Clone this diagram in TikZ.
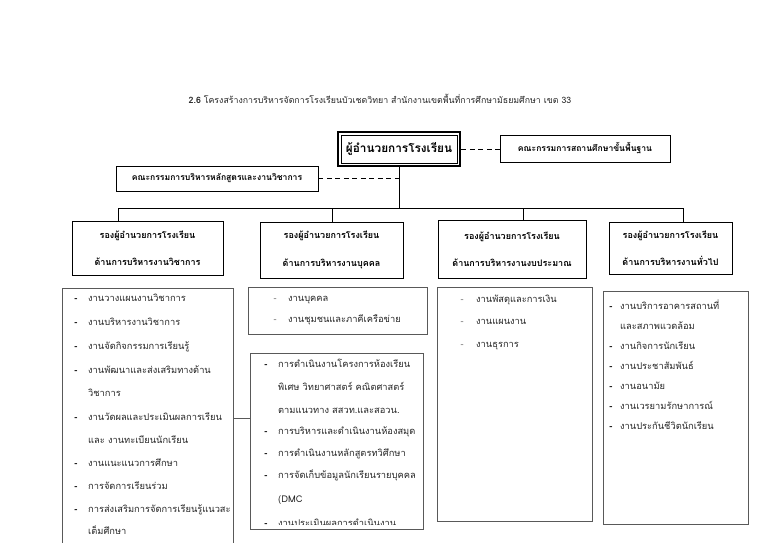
\documentclass[tikz,border=0pt]{standalone}
\usepackage{fontspec}
\setmainfont{Loma}[Script=Thai]
\usetikzlibrary{fit,calc}
\begin{document}
\begin{tikzpicture}[x=1pt,y=-1pt,
  box/.style={draw, line width=0.9pt, inner sep=0pt, font=\bfseries\fontsize{8.6}{10}\selectfont},
  hbox/.style={draw, line width=0.9pt, inner sep=0pt, align=center, font=\bfseries\fontsize{9}{27.5}\selectfont},
  lbox/.style={draw=black!65, line width=0.6pt, inner sep=0pt, anchor=north west},
  itm/.style={font=\fontsize{9.3}{11}\selectfont, inner sep=0pt, text height=7pt, text depth=2.5pt, anchor=west, text=black!85},
  dsh/.style={font=\bfseries\fontsize{9.3}{11}\selectfont, inner sep=0pt, text height=7pt, text depth=2.5pt, anchor=center},
  ldsh/.style={dsh, font=\fontsize{9}{11}\selectfont, text=black!55},
  conn/.style={line width=0.8pt},
  dconn/.style={line width=0.8pt, dash pattern=on 5pt off 3.5pt}]
\useasboundingbox (0,0) rectangle (768,543);
\fill[white] (0,0) rectangle (768,543);

% title
\node[inner sep=0pt, font=\fontsize{8.8}{10}\selectfont, text=black!85] (title) at (380,99) {\textbf{2.6} โครงสร้างการบริหารจัดการโรงเรียนบัวเชดวิทยา สำนักงานเขตพื้นที่การศึกษามัธยมศึกษา เขต 33};

% top
\node[draw, line width=0.7pt, minimum width=116pt, minimum height=28pt, inner sep=0pt, font=\bfseries\fontsize{11.8}{14}\selectfont] (main) at (399,149) {ผู้อำนวยการโรงเรียน};
\node[fit=(main), inner sep=3pt, draw, line width=2.2pt] (mainout) {};
\node[box, minimum width=170pt, minimum height=27pt] (board) at (585,148.5) {คณะกรรมการสถานศึกษาขั้นพื้นฐาน};
\node[box, minimum width=202pt, minimum height=25pt] (acad) at (217,178.5) {คณะกรรมการบริหารหลักสูตรและงานวิชาการ};

% deputies
\node[hbox, minimum width=151pt, minimum height=54pt] (h1) at (147.5,248) {รองผู้อำนวยการโรงเรียน\\ด้านการบริหารงานวิชาการ};
\node[hbox, minimum width=143pt, minimum height=56pt] (h2) at (331.5,250) {รองผู้อำนวยการโรงเรียน\\ด้านการบริหารงานบุคคล};
\node[hbox, minimum width=148pt, minimum height=58pt, yshift=2pt] (h3) at (512,251) {รองผู้อำนวยการโรงเรียน\\ด้านการบริหารงานงบประมาณ};
\node[hbox, minimum width=123pt, minimum height=52pt] (h4) at (670.5,248) {รองผู้อำนวยการโรงเรียน\\ด้านการบริหารงานทั่วไป};

% connectors
\coordinate (j1) at (118,208);
\coordinate (j2) at (332,208);
\coordinate (j3) at (523,208);
\coordinate (j4) at (683,208);
\draw[dconn] (mainout.east) -- (mainout.east -| board.west);
\draw[dconn] (acad.east) -- (acad.east -| mainout.south);
\draw[conn] (mainout.south) -- (mainout.south |- j1);
\draw[conn] (j1) -- (j4);
\draw[conn] (j1) -- (j1 |- h1.north);
\draw[conn] (j2) -- (j2 |- h2.north);
\draw[conn] (j3) -- (j3 |- h3.north);
\draw[conn] (j4) -- (j4 |- h4.north);

% list boxes
\node[lbox, minimum width=171pt, minimum height=275pt] (l1) at (62,288) {};
\node[lbox, minimum width=179pt, minimum height=47pt] (l2a) at (248,287) {};
\node[lbox, minimum width=173pt, minimum height=176pt] (l2b) at (250,353) {};
\node[lbox, minimum width=155pt, minimum height=234pt] (l3) at (437,287) {};
\node[lbox, minimum width=145pt, minimum height=233pt] (l4) at (603,291) {};
\coordinate (lk) at (l2b.west |- 0,418);
\draw[draw=black!65, line width=0.6pt] (l1.east |- lk) -- (lk);

% list 1
\node[dsh] (l1d1) at (76,299) {-};
\node[itm] (l1t1) at (88,299) {งานวางแผนงานวิชาการ};
\node[dsh] (l1d2) at (76,323) {-};
\node[itm] (l1t2) at (88,323) {งานบริหารงานวิชาการ};
\node[dsh] (l1d3) at (76,347) {-};
\node[itm] (l1t3) at (88,347) {งานจัดกิจกรรมการเรียนรู้};
\node[dsh] (l1d4) at (76,371) {-};
\node[itm] (l1t4) at (88,371) {งานพัฒนาและส่งเสริมทางด้าน};
\node[itm] (l1t5) at (88,394) {วิชาการ};
\node[dsh] (l1d6) at (76,418) {-};
\node[itm] (l1t6) at (88,418) {งานวัดผลและประเมินผลการเรียน};
\node[itm] (l1t7) at (88,441) {และ งานทะเบียนนักเรียน};
\node[dsh] (l1d8) at (76,464) {-};
\node[itm] (l1t8) at (88,464) {งานแนะแนวการศึกษา};
\node[dsh] (l1d9) at (76,487) {-};
\node[itm] (l1t9) at (88,487) {การจัดการเรียนร่วม};
\node[dsh] (l1d10) at (76,510) {-};
\node[itm] (l1t10) at (88,510) {การส่งเสริมการจัดการเรียนรู้แนวสะ};
\node[itm] (l1t11) at (88,532) {เต็มศึกษา};

% list 2a
\node[ldsh] (l2ad1) at (275,299) {-};
\node[itm] (l2at1) at (288,299) {งานบุคคล};
\node[ldsh] (l2ad2) at (275,320) {-};
\node[itm] (l2at2) at (288,320) {งานชุมชนและภาคีเครือข่าย};

% list 2b
\node[dsh] (l2bd1) at (266,365) {-};
\node[itm] (l2bt1) at (278,365) {การดำเนินงานโครงการห้องเรียน};
\node[itm] (l2bt2) at (278,388) {พิเศษ วิทยาศาสตร์ คณิตศาสตร์};
\node[itm] (l2bt3) at (278,411) {ตามแนวทาง สสวท.และสอวน.};
\node[dsh] (l2bd4) at (266,432) {-};
\node[itm] (l2bt4) at (278,432) {การบริหารและดำเนินงานห้องสมุด};
\node[dsh] (l2bd5) at (266,454) {-};
\node[itm] (l2bt5) at (278,454) {การดำเนินงานหลักสูตรทวิศึกษา};
\node[dsh] (l2bd6) at (266,476) {-};
\node[itm] (l2bt6) at (278,476) {การจัดเก็บข้อมูลนักเรียนรายบุคคล};
\node[itm] (l2bt7) at (278,500) {(DMC};
\begin{scope}
\clip (250,510) rectangle (423,524);
\node[dsh] (l2bd8) at (266,524) {-};
\node[itm] (l2bt8) at (278,524) {งานประเมินผลการดำเนินงาน};
\end{scope}

% list 3
\node[ldsh] (l3d1) at (462,300) {-};
\node[itm] (l3t1) at (476,300) {งานพัสดุและการเงิน};
\node[ldsh] (l3d2) at (462,322) {-};
\node[itm] (l3t2) at (476,322) {งานแผนงาน};
\node[ldsh] (l3d3) at (462,345) {-};
\node[itm] (l3t3) at (476,345) {งานธุรการ};

% list 4
\node[dsh] (l4d1) at (611,307) {-};
\node[itm] (l4t1) at (620,307) {งานบริการอาคารสถานที่};
\node[itm] (l4t2) at (620,327) {และสภาพแวดล้อม};
\node[dsh] (l4d3) at (611,347) {-};
\node[itm] (l4t3) at (620,347) {งานกิจการนักเรียน};
\node[dsh] (l4d4) at (611,367) {-};
\node[itm] (l4t4) at (620,367) {งานประชาสัมพันธ์};
\node[dsh] (l4d5) at (611,387) {-};
\node[itm] (l4t5) at (620,387) {งานอนามัย};
\node[dsh] (l4d6) at (611,407) {-};
\node[itm] (l4t6) at (620,407) {งานเวรยามรักษาการณ์};
\node[dsh] (l4d7) at (611,427) {-};
\node[itm] (l4t7) at (620,427) {งานประกันชีวิตนักเรียน};
\end{tikzpicture}
\end{document}
